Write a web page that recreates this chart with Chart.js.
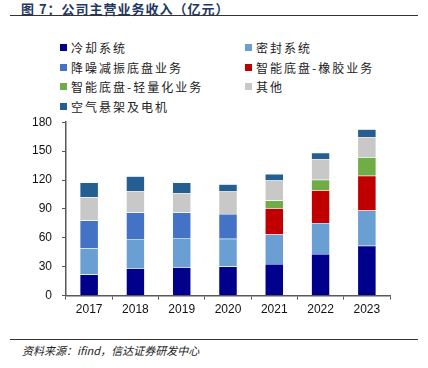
<!DOCTYPE html>
<html lang="zh">
<head>
<meta charset="UTF-8" />
<title>公司主营业务收入</title>
<script src="https://cdn.jsdelivr.net/npm/chart.js"></script>
<style>
  body {
    margin: 0;
    width: 428px;
    height: 368px;
    position: relative;
    background: #fff;
    font-family: "Liberation Sans", Arial, "Noto Sans CJK SC", sans-serif;
    overflow: hidden;
  }
  #title {
    position: absolute;
    left: 21px;
    top: -1px;
    font-size: 13px;
    font-weight: bold;
    color: #1f3864;
    font-family: "Noto Sans CJK SC", sans-serif;
    letter-spacing: 1px;
  }
  .rule {
    position: absolute;
    left: 10px;
    width: 408px;
    height: 1px;
    background: #333;
  }
  #legend {
    position: absolute;
    left: 60px;
    top: 39px;
    width: 360px;
    font-family: "Noto Sans CJK SC", sans-serif;
    font-size: 12px;
    color: #222;
  }
  .item {
    position: absolute;
    display: flex;
    align-items: center;
    letter-spacing: 2px;
    white-space: nowrap;
  }
  .item span.box {
    width: 7px;
    height: 7px;
    margin-right: 4px;
  }
  .wrap {
    position: absolute;
    left: 0;
    top: 105px;
    width: 428px;
    height: 215px;
  }
  #source {
    position: absolute;
    left: 22px;
    top: 342px;
    font-size: 11px;
    font-style: italic;
    color: #222;
    font-family: "Noto Sans CJK SC", sans-serif;
  }
</style>
</head>
<body>

<div id="title">图 7：公司主营业务收入（亿元）</div>
<div class="rule" style="top:15px"></div>
<div id="legend"></div>
<div class="wrap"><canvas id="chart" width="428" height="215"></canvas></div>
<div class="rule" style="top:339px"></div>
<div id="source">资料来源：ifind，信达证券研发中心</div>

<script>
const years = ["2017", "2018", "2019", "2020", "2021", "2022", "2023"];

const cooling   = [22, 28.5, 29.5, 30.3, 32.7, 43.3, 51.7];
const sealing   = [27, 30.2, 30.3, 28.8, 30.6, 32, 36.6];
const nvh       = [29, 27.5, 26.4, 25.7, 0, 0, 0];
const rubber    = [0, 0, 0, 0, 27.4, 34.1, 36.2];
const light     = [0, 0, 0, 0, 8.1, 10.9, 19];
const others    = [24, 22.5, 20.4, 23.2, 20.8, 21.5, 21.1];
const airSusp   = [15.5, 15.1, 10.9, 7.7, 6.7, 6.6, 8.1];

const seriesNames = ["冷却系统", "密封系统", "降噪减振底盘业务", "智能底盘-橡胶业务",
                     "智能底盘-轻量化业务", "其他", "空气悬架及电机"];
const seriesData = [cooling, sealing, nvh, rubber, light, others, airSusp];
const colors = ["#00008c", "#6a9fd4", "#4472c4", "#c00000", "#70ad47", "#c8c8c8", "#255e91"];

const yTicks = [0, 30, 60, 90, 120, 150, 180];

// legend, two columns
const legend = document.getElementById("legend");
seriesNames.forEach((name, i) => {
  const el = document.createElement("div");
  el.className = "item";
  el.style.left = (i % 2 === 0 ? 0 : 185) + "px";
  el.style.top = (Math.floor(i / 2) * 19.7) + "px";
  el.innerHTML = `<span class="box" style="background:${colors[i]}"></span>${name}`;
  legend.appendChild(el);
});

new Chart(document.getElementById("chart"), {
  type: "bar",
  data: {
    labels: years,
    datasets: seriesNames.map((name, i) => ({
      label: name,
      data: seriesData[i],
      backgroundColor: colors[i],
      borderColor: "rgba(255,255,255,0.6)",
      borderWidth: 0.5,
      categoryPercentage: 0.8,
      barPercentage: 0.5
    }))
  },
  options: {
    responsive: false,
    animation: false,
    layout: { padding: { top: 4, right: 38, bottom: 0, left: 0 } },
    plugins: {
      legend: { display: false },
      tooltip: { enabled: false }
    },
    scales: {
      x: {
        stacked: true,
        offset: true,
        grid: {
          offset: true,
          drawOnChartArea: false,
          drawTicks: true,
          tickLength: 4,
          color: "#595959"
        },
        border: { color: "#595959", width: 1.5 },
        ticks: {
          color: "#111",
          font: { size: 12, family: "'Liberation Sans', Arial" },
          padding: 3
        }
      },
      y: {
        stacked: true,
        min: 0,
        max: 180,
        afterBuildTicks: (axis) => { axis.ticks = yTicks.map(v => ({ value: v })); },
        afterFit: (axis) => { axis.width = 66; },
        grid: {
          drawOnChartArea: false,
          drawTicks: true,
          tickLength: 4,
          color: "#595959"
        },
        border: { color: "#595959", width: 1.5 },
        ticks: {
          color: "#111",
          font: { size: 12, family: "'Liberation Sans', Arial" },
          padding: 10
        }
      }
    }
  }
});
</script>
</body>
</html>
